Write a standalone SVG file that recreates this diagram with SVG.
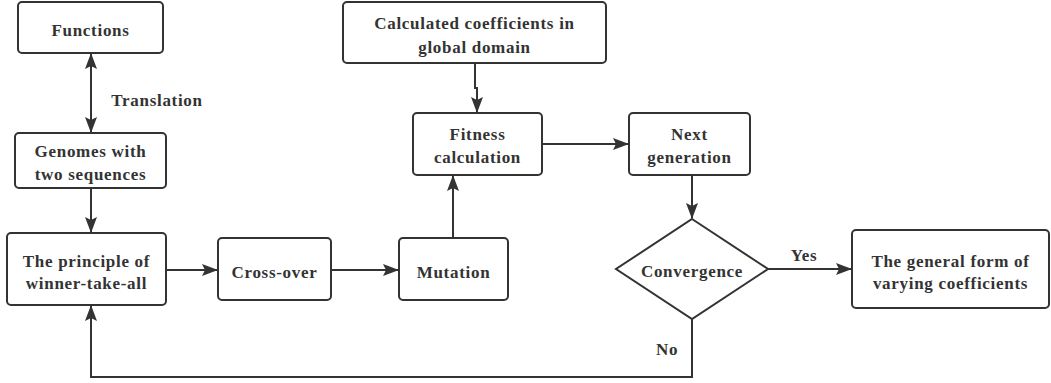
<svg xmlns="http://www.w3.org/2000/svg" width="1051" height="383" viewBox="0 0 1051 383">
  <style>
    .box { fill: #ffffff; stroke: #333333; stroke-width: 2; }
    .lbl { font-family: 'Liberation Serif', 'Times New Roman', serif; font-weight: 700; font-size: 17px; fill: #333333; text-anchor: middle; letter-spacing: 0.7px; }
    .edge { fill: none; stroke: #333333; stroke-width: 2; }
  </style>
  <defs>
    <marker id="arrow" markerUnits="userSpaceOnUse" markerWidth="16" markerHeight="12" refX="15" refY="6" orient="auto">
      <path d="M0,0 L16,6 L0,12 L3,6 z" fill="#333333"/>
    </marker>
    <marker id="arrowStart" markerUnits="userSpaceOnUse" markerWidth="16" markerHeight="12" refX="1" refY="6" orient="auto">
      <path d="M16,0 L0,6 L16,12 L13,6 z" fill="#333333"/>
    </marker>
  </defs>
  <rect width="1051" height="383" fill="#ffffff"/>

  <!-- flow connectors and their labels -->
  <g id="connectors">
    <path class="edge" d="M91,54 V132" marker-start="url(#arrowStart)" marker-end="url(#arrow)"/>
    <path class="edge" d="M91,188 V232" marker-end="url(#arrow)"/>
    <path class="edge" d="M166,270 H217" marker-end="url(#arrow)"/>
    <path class="edge" d="M331,270 H398" marker-end="url(#arrow)"/>
    <path class="edge" d="M453,238 V176" marker-end="url(#arrow)"/>
    <path class="edge" d="M475,63 V88 H477 V112" marker-end="url(#arrow)"/>
    <path class="edge" d="M542,144 H628" marker-end="url(#arrow)"/>
    <path class="edge" d="M692,175 V218" marker-end="url(#arrow)"/>
    <path class="edge" d="M768,269 H851" marker-end="url(#arrow)"/>
    <path class="edge" d="M692,319 V377 H91 V306" marker-end="url(#arrow)"/>
    <text class="lbl" x="157" y="106">Translation</text>
    <text class="lbl" x="804" y="261">Yes</text>
    <text class="lbl" x="667" y="355">No</text>
  </g>

  <g id="functions">
    <rect class="box" x="18" y="2" width="145" height="51" rx="4"/>
    <text class="lbl" x="90.5" y="36">Functions</text>
  </g>

  <g id="genomes">
    <rect class="box" x="15" y="133" width="151" height="55" rx="4"/>
    <text class="lbl" x="90.5" y="157">Genomes with</text>
    <text class="lbl" x="90.5" y="180">two sequences</text>
  </g>

  <g id="principle">
    <rect class="box" x="7" y="233" width="159" height="72" rx="4"/>
    <text class="lbl" x="86.5" y="267">The principle of</text>
    <text class="lbl" x="86.5" y="289">winner-take-all</text>
  </g>

  <g id="crossover">
    <rect class="box" x="218" y="238" width="113" height="62" rx="4"/>
    <text class="lbl" x="274.5" y="278">Cross-over</text>
  </g>

  <g id="mutation">
    <rect class="box" x="399" y="238" width="109" height="62" rx="4"/>
    <text class="lbl" x="453.5" y="278">Mutation</text>
  </g>

  <g id="coefficients">
    <rect class="box" x="343" y="2" width="263" height="61" rx="4"/>
    <text class="lbl" x="474.5" y="29">Calculated coefficients in</text>
    <text class="lbl" x="474.5" y="53">global domain</text>
  </g>

  <g id="fitness">
    <rect class="box" x="413" y="113" width="129" height="62" rx="4"/>
    <text class="lbl" x="477.5" y="140">Fitness</text>
    <text class="lbl" x="477.5" y="163">calculation</text>
  </g>

  <g id="nextgen">
    <rect class="box" x="629" y="113" width="121" height="62" rx="4"/>
    <text class="lbl" x="689.5" y="140">Next</text>
    <text class="lbl" x="689.5" y="163">generation</text>
  </g>

  <g id="convergence">
    <polygon class="box" points="692,219 768,269 692,319 616,269"/>
    <text class="lbl" x="692" y="277">Convergence</text>
  </g>

  <g id="generalform">
    <rect class="box" x="852" y="230" width="197" height="78" rx="4"/>
    <text class="lbl" x="950.5" y="267">The general form of</text>
    <text class="lbl" x="950.5" y="289">varying coefficients</text>
  </g>
</svg>
